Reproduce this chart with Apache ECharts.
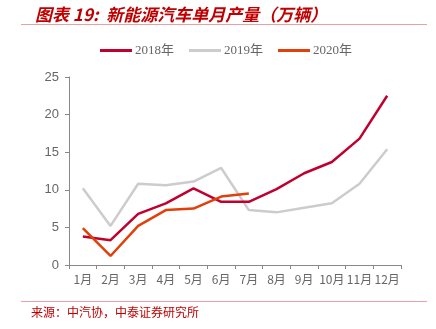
<!DOCTYPE html>
<html><head><meta charset="utf-8">
<script src="https://cdn.jsdelivr.net/npm/echarts@6/dist/echarts.min.js"></script>
<style>html,body{margin:0;padding:0;background:#fff}#c{width:436px;height:329px}</style>
</head><body><div id="c"></div>
<script>
var categories = ['1月','2月','3月','4月','5月','6月','7月','8月','9月','10月','11月','12月'];
var s2018 = [3.8, 3.3, 6.8, 8.2, 10.2, 8.4, 8.4, 10.1, 12.2, 13.7, 16.8, 22.5];
var s2019 = [10.2, 5.2, 10.8, 10.6, 11.1, 12.9, 7.3, 7.0, 7.6, 8.2, 10.8, 15.4];
var s2020 = [4.9, 1.2, 5.2, 7.3, 7.5, 9.1, 9.5];
var yTicks = [0, 5, 10, 15, 20, 25];
var seriesNames = ['2018年', '2019年', '2020年'];
var colors = ['#c0002f', '#cccccc', '#e2400a'];

var chart = echarts.init(document.getElementById('c'));
chart.setOption({
  animation: false,
  title: {
    text: '图表 19:  新能源汽车单月产量（万辆）',
    left: 30, top: 1,
    textStyle: {fontFamily: '"Noto Sans CJK SC"', fontStyle: 'italic', fontWeight: 'bold', fontSize: 17, color: '#c00000'}
  },
  graphic: [
    {type: 'line', shape: {x1: 21, y1: 24.5, x2: 427, y2: 24.5}, style: {stroke: '#e8a0a0', lineWidth: 1}},
    {type: 'line', shape: {x1: 21, y1: 301.5, x2: 427, y2: 301.5}, style: {stroke: '#e8a0a0', lineWidth: 1}},
    {type: 'text', left: 31, top: 306, style: {text: '来源：中汽协，中泰证券研究所', fill: '#c00000', font: '12px "Noto Sans CJK SC"'}}
  ],
  legend: {
    top: 39, left: 95,
    itemWidth: 32, itemHeight: 3, itemGap: 15,
    icon: 'rect',
    textStyle: {fontFamily: '"Liberation Serif", "Noto Sans CJK SC"', fontSize: 13, color: '#666', padding: [0, 0, 0, -2]},
    data: seriesNames
  },
  grid: {left: 69, right: 35, top: 77, bottom: 64},
  xAxis: {
    type: 'category', data: categories, boundaryGap: true,
    axisLine: {lineStyle: {color: '#888'}},
    axisTick: {show: true, lineStyle: {color: '#888'}, length: 4},
    axisLabel: {color: '#666', fontSize: 12, fontFamily: '"Noto Sans CJK SC"', interval: 0, margin: 8}
  },
  yAxis: {
    type: 'value', min: yTicks[0], max: yTicks[yTicks.length - 1], interval: 5,
    axisLine: {show: true, lineStyle: {color: '#888'}},
    axisTick: {show: true, lineStyle: {color: '#888'}, length: 4},
    splitLine: {show: false},
    axisLabel: {color: '#666', fontSize: 13, fontFamily: '"Liberation Sans", sans-serif', margin: 10}
  },
  series: [
    {name: seriesNames[0], type: 'line', data: s2018, symbol: 'none', lineStyle: {width: 2.5, color: colors[0]}, itemStyle: {color: colors[0]}, z: 3},
    {name: seriesNames[1], type: 'line', data: s2019, symbol: 'none', lineStyle: {width: 2.5, color: colors[1]}, itemStyle: {color: colors[1]}, z: 2},
    {name: seriesNames[2], type: 'line', data: s2020, symbol: 'none', lineStyle: {width: 2.5, color: colors[2]}, itemStyle: {color: colors[2]}, z: 4}
  ]
});
</script></body></html>
